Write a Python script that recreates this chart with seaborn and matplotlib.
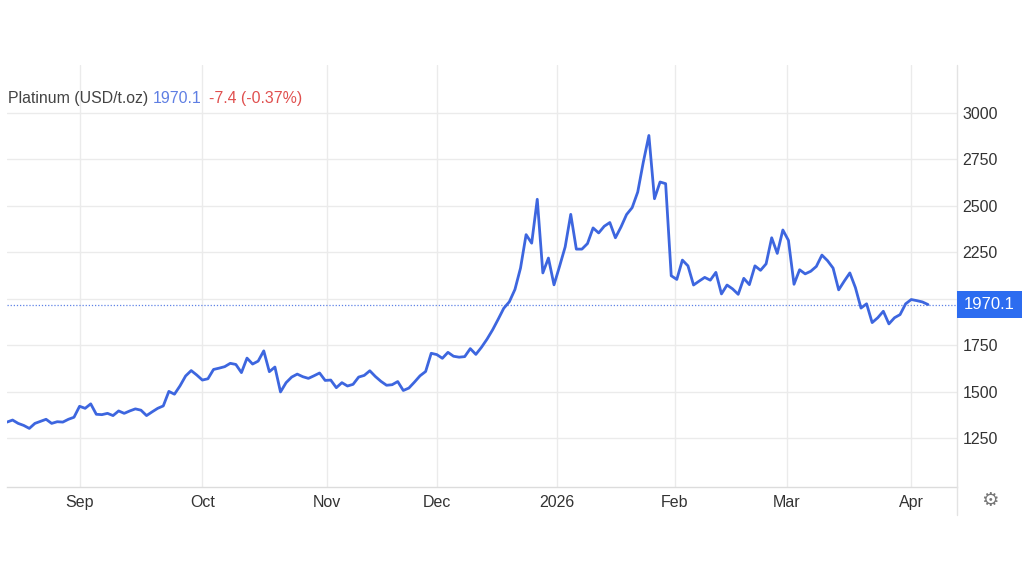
import numpy as np
import pandas as pd
import matplotlib
matplotlib.use("Agg")
import matplotlib.pyplot as plt
import matplotlib.dates as mdates
from matplotlib.lines import Line2D
from matplotlib.patches import Rectangle
import seaborn as sns

# ---------------- data ----------------
start_date = "2025-08-13"
end_date = "2026-04-06"
holidays = ["2025-11-27", "2025-12-25", "2026-01-01"]

prices = [
    # Aug 13 - Aug 29
    1338, 1349, 1331, 1320, 1304, 1331, 1342, 1353, 1331, 1340, 1338, 1353, 1364,
    # Sep
    1423, 1412, 1436, 1380, 1378, 1385, 1373, 1398, 1385, 1398, 1409, 1402, 1373,
    1393, 1412, 1425, 1503, 1488, 1533, 1586, 1615, 1591,
    # Oct
    1564, 1571, 1621, 1628, 1636, 1654, 1648, 1604, 1682, 1650, 1666, 1721, 1609,
    1634, 1500, 1550, 1580, 1596, 1582, 1573, 1587, 1602, 1562,
    # Nov
    1564, 1523, 1550, 1532, 1541, 1580, 1589, 1614, 1583, 1557, 1536, 1539, 1556,
    1508, 1521, 1553, 1587, 1610, 1708,
    # Dec
    1701, 1681, 1713, 1692, 1687, 1690, 1733, 1702, 1740, 1784, 1834, 1891, 1950,
    1985, 2051, 2166, 2346, 2300, 2536, 2140, 2220, 2076,
    # Jan
    2176, 2280, 2455, 2268, 2268, 2298, 2382, 2355, 2391, 2411, 2329, 2387, 2454,
    2491, 2575, 2736, 2879, 2539, 2629, 2620, 2125,
    # Feb
    2105, 2209, 2178, 2075, 2096, 2116, 2101, 2143, 2027, 2075, 2054, 2025, 2111,
    2077, 2178, 2154, 2189, 2329, 2245, 2371,
    # Mar
    2315, 2079, 2157, 2135, 2149, 2175, 2236, 2206, 2166, 2049, 2096, 2140, 2061,
    1951, 1974, 1873, 1899, 1934, 1866, 1899, 1916, 1974,
    # Apr
    1997, 1991, 1984, 1970.1,
]

month_starts = ["2025-09-01", "2025-10-01", "2025-11-01", "2025-12-01",
                "2026-01-01", "2026-02-01", "2026-03-01", "2026-04-01"]
month_labels = ["Sep", "Oct", "Nov", "Dec", "2026", "Feb", "Mar", "Apr"]
y_ticks = [1250, 1500, 1750, 2000, 2250, 2500, 2750, 3000]

title_name = "Platinum (USD/t.oz)"
last_text = "1970.1"
change_text = "-7.4 (-0.37%)"

# ---------------- build frame ----------------
dates = pd.bdate_range(start_date, end_date, freq="C", holidays=holidays)
n = min(len(dates), len(prices))
dates = dates[:n]
df = pd.DataFrame({"date": dates, "price": prices[:n]})
df["pos"] = np.arange(n)

tick_pos = np.interp(mdates.date2num(pd.to_datetime(month_starts)),
                     mdates.date2num(df["date"]), df["pos"])

# ---------------- style ----------------
sns.set_theme(style="white")
plt.rcParams["font.family"] = ["Liberation Sans", "DejaVu Sans"]

W, H = 1024, 576
LINE = "#3d66df"
GRID = "#ebebeb"
TXT = "#333333"

fig = plt.figure(figsize=(W / 100, H / 100), dpi=100)
fig.patch.set_facecolor("white")
ax = fig.add_axes([7 / W, (H - 487) / H, (957 - 7) / W, (487 - 65) / H])

sns.lineplot(data=df, x="pos", y="price", ax=ax, color=LINE, linewidth=2.0)

ax.axhline(prices[-1], color="#5f82e6", lw=0.9, ls=(0, (1, 1.5)), zorder=1)

ax.set_xlim(0, 170.2)
ax.set_ylim(989, 3258)
ax.set_xticks(tick_pos)
ax.set_xticklabels(month_labels)
ax.set_yticks(y_ticks)
ax.set_yticklabels([str(t) for t in y_ticks])
ax.yaxis.tick_right()
ax.set_xlabel("")
ax.set_ylabel("")
ax.grid(True, color=GRID, lw=1)
ax.set_axisbelow(True)
ax.tick_params(axis="y", length=0, pad=4, labelsize=11.5, labelcolor=TXT)
ax.tick_params(axis="x", length=0, pad=6, labelsize=11.5, labelcolor=TXT)
for s in ["top", "left", "right"]:
    ax.spines[s].set_visible(False)
ax.spines["bottom"].set_color("#dcdcdc")
ax.spines["bottom"].set_linewidth(1)

# right frame line
fig.add_artist(Line2D([957 / W, 957 / W], [(H - 65) / H, (H - 515) / H],
                      color="#e3e3e3", lw=1, zorder=3))

# header text
ty = (H - 98.5) / H
fig.text(8 / W, ty, title_name, color="#444444", fontsize=11.4, va="center", ha="left")
fig.text(153 / W, ty, last_text, color="#5f7fe3", fontsize=11.4, va="center", ha="left")
fig.text(209 / W, ty, change_text, color="#e0504f", fontsize=11.4, va="center", ha="left")

# last price box
fig.add_artist(Rectangle((957 / W, (H - 318) / H), 65 / W, 27 / H,
                         transform=fig.transFigure, facecolor="#2c6cf0",
                         edgecolor="none", zorder=6))
fig.text(989.5 / W, (H - 304.5) / H, last_text, color="white", fontsize=12,
         ha="center", va="center", zorder=7)

# settings gear
fig.text(990 / W, (H - 501) / H, "\u2699", color="#777777", fontsize=14,
         ha="center", va="center", family=["DejaVu Sans"])

fig.savefig("out.png", dpi=100, facecolor="white")
